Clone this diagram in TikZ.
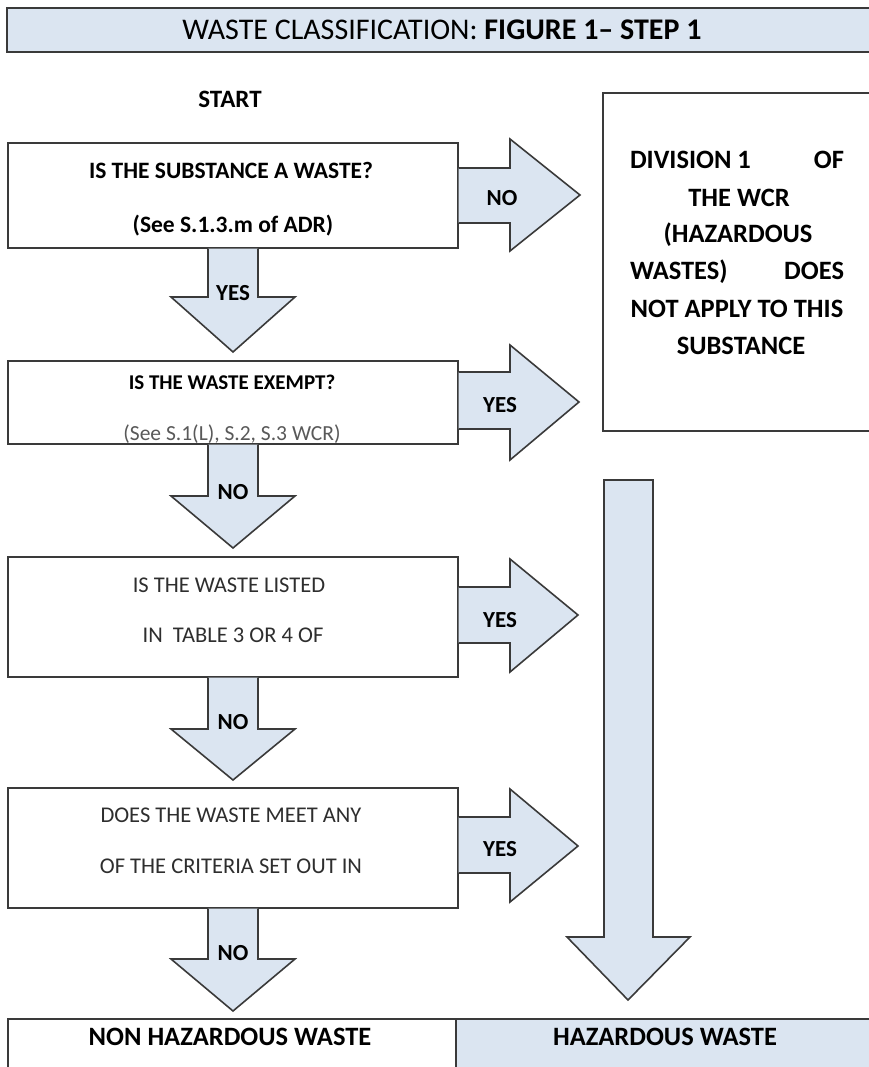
\documentclass[tikz,border=0pt]{standalone}
\usepackage{fontspec}
\setmainfont{Carlito}
\definecolor{paleblue}{HTML}{DBE5F1}
\definecolor{edge}{HTML}{3A3A3A}
\definecolor{softink}{HTML}{2E2E2E}
\begin{document}
\begin{tikzpicture}[x=1pt,y=-1pt,
  outline/.style={draw=edge,line width=1.6pt},
  qbox/.style={outline,fill=white,anchor=north west,inner sep=0pt},
  blockarrow/.style={outline,fill=paleblue,line join=miter},
  lbl/.style={font=\bfseries\fontsize{23}{27}\selectfont,inner sep=0pt},
  qbold/.style={font=\bfseries\fontsize{23.5}{28}\selectfont,inner sep=0pt},
  qplain/.style={font=\fontsize{22.5}{27}\selectfont,text=softink,inner sep=0pt},
  divtext/.style={font=\bfseries\fontsize{26.5}{31}\selectfont,inner sep=0pt}]
\useasboundingbox (0,0) rectangle (869,1067);

% title bar
\node[qbox,fill=paleblue,line width=1.8pt,minimum width=880pt,minimum height=44pt] (title) at (6,7) {};
\node[font=\fontsize{30}{35}\selectfont,inner sep=0pt] (titletext) at (442,30)
  {WASTE CLASSIFICATION: \textbf{FIGURE 1-- STEP 1}};

\node[font=\bfseries\fontsize{25}{30}\selectfont,inner sep=0pt] (start) at (230,99) {START};

% question boxes
\node[qbox,minimum width=450pt,minimum height=105pt] (q1) at (7,142) {};
\node[qbox,minimum width=450pt,minimum height=83pt] (q2) at (7,360) {};
\node[qbox,minimum width=450pt,minimum height=120pt] (q3) at (7,556) {};
\node[qbox,minimum width=450pt,minimum height=120pt] (q4) at (7,787) {};

\node[qbold] (q1a) at (231,170) {IS THE SUBSTANCE A WASTE?};
\node[qbold] (q1b) at (233,226) {(See S.1.3.m of ADR)};
\node[font=\bfseries\fontsize{21}{25}\selectfont,inner sep=0pt] (q2a) at (232,382) {IS THE WASTE EXEMPT?};
\node[font=\fontsize{21.5}{25}\selectfont,text=black!65,inner sep=0pt] (q2b) at (232,434) {(See S.1(L), S.2, S.3 WCR)};
\node[qplain] (q3a) at (229,585) {IS THE WASTE LISTED};
\node[qplain] (q3b) at (233,635) {IN\ \ TABLE 3 OR 4 OF};
\node[qplain] (q4a) at (231,815) {DOES THE WASTE MEET ANY};
\node[qplain] (q4b) at (231,866) {OF THE CRITERIA SET OUT IN};

% outcome box
\node[qbox,minimum width=280pt,minimum height=338pt] (div) at (602,92) {};
\node[divtext] (d1) at (737,160) {\makebox[214pt][s]{DIVISION 1\hfill OF}};
\node[divtext] (d2) at (739,198) {THE WCR};
\node[divtext] (d3) at (738,235) {(HAZARDOUS};
\node[divtext] (d4) at (737,272) {\makebox[214pt][s]{WASTES)\hfill DOES}};
\node[divtext] (d5) at (737,309) {NOT APPLY TO THIS};
\node[divtext] (d6) at (741,346) {SUBSTANCE};

% result boxes
\node[qbox,minimum width=448pt,minimum height=60pt] (nonhaz) at (7,1018) {};
\node[qbox,fill=paleblue,minimum width=430pt,minimum height=60pt] (haz) at (455,1018) {};
\node[font=\bfseries\fontsize{26.5}{31}\selectfont,inner sep=0pt] (nonhazt) at (230,1037) {NON HAZARDOUS WASTE};
\node[font=\bfseries\fontsize{26.5}{31}\selectfont,inner sep=0pt] (hazt) at (665,1037) {HAZARDOUS WASTE};

% right-pointing block arrows
\draw[blockarrow] (q1.east |- 0,168) -- (510,168) -- (510,139) -- (580,195) -- (510,251) -- (510,223) -- (q1.east |- 0,223);
\draw[blockarrow] (q2.east |- 0,372) -- (510,372) -- (510,345) -- (579,402) -- (510,460) -- (510,429) -- (q2.east |- 0,429);
\draw[blockarrow] (q3.east |- 0,587) -- (510,587) -- (510,559) -- (578,615) -- (510,672) -- (510,643) -- (q3.east |- 0,643);
\draw[blockarrow] (q4.east |- 0,817) -- (510,817) -- (510,789) -- (578,846) -- (510,902) -- (510,873) -- (q4.east |- 0,873);
\node[lbl] (a1) at (502,198) {NO};
\node[lbl] (a2) at (500,405) {YES};
\node[lbl] (a3) at (500,620) {YES};
\node[lbl] (a4) at (500,849) {YES};

% downward block arrows
\draw[blockarrow] (208,0 |- q1.south) -- (208,297) -- (171,297) -- (233,352) -- (295,297) -- (258,297) -- (258,0 |- q1.south);
\draw[blockarrow] (208,0 |- q2.south) -- (208,496) -- (171,496) -- (233,548) -- (295,496) -- (258,496) -- (258,0 |- q2.south);
\draw[blockarrow] (208,0 |- q3.south) -- (208,729) -- (171,729) -- (233,780) -- (295,729) -- (258,729) -- (258,0 |- q3.south);
\draw[blockarrow] (208,0 |- q4.south) -- (208,959) -- (171,959) -- (233,1011) -- (295,959) -- (258,959) -- (258,0 |- q4.south);
\node[lbl] (b1) at (233,293) {YES};
\node[lbl] (b2) at (233,492) {NO};
\node[lbl] (b3) at (233,722) {NO};
\node[lbl] (b4) at (233,953) {NO};

% long arrow down to the hazardous result
\draw[blockarrow] (604,480) -- (653,480) -- (653,937) -- (690,937) -- (628,1000) -- (567,937) -- (604,937) -- cycle;
\end{tikzpicture}
\end{document}
